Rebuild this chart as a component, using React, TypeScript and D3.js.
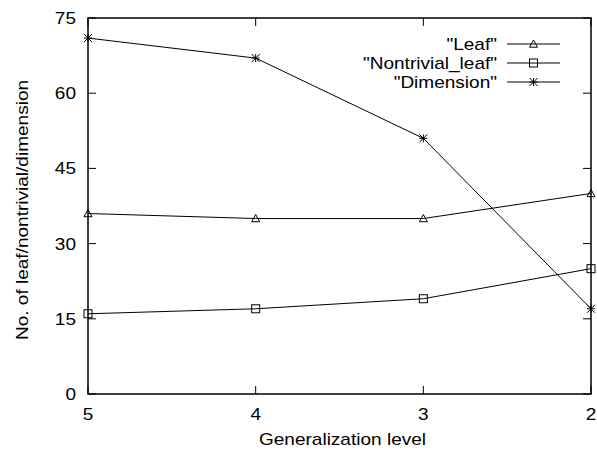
import React, { useEffect, useRef } from "react";
import * as d3 from "d3";

// generalization levels (x axis runs 5 -> 2)
const levels = [5, 4, 3, 2];
const leaf = [36, 35, 35, 40];
const nontrivialLeaf = [16, 17, 19, 25];
const dimension = [71, 67, 51, 17];
const yTicks = [0, 15, 30, 45, 60, 75];
const seriesNames = ['"Leaf"', '"Nontrivial_leaf"', '"Dimension"'];
const seriesMarks = ["triangle", "square", "star"];

const App = () => {
  const svgRef = useRef<SVGSVGElement>(null);

  useEffect(() => {
    const W = 597,
      H = 450;
    const margin = { top: 18, right: 6, bottom: 56, left: 88 };
    const width = W - margin.left - margin.right,
      height = H - margin.top - margin.bottom;

    d3.select(svgRef.current).selectAll("*").remove();

    const svg = d3
      .select(svgRef.current)
      .attr("width", W)
      .attr("height", H)
      .style("position", "absolute")
      .style("left", "0px")
      .style("top", "0px")
      .style("font-family", "'Liberation Sans', Arial, sans-serif");

    const g = svg.append("g").attr("transform", `translate(${margin.left},${margin.top})`);

    // the original font is a bit wider than Liberation Sans
    const label = (sel: any, tx: number, ty: number, txt: string, anchor: string, rot = 0) =>
      sel
        .append("text")
        .attr("transform", `translate(${tx},${ty}) rotate(${rot}) scale(1.12,1)`)
        .attr("text-anchor", anchor)
        .attr("font-size", 17)
        .text(txt);

    const x = d3.scaleLinear().domain([5, 2]).range([0, width]);
    const y = d3.scaleLinear().domain([0, 75]).range([height, 0]);

    // ticks (inward, mirrored)
    const tickLen = 8;
    levels.forEach((v) => {
      g.append("line").attr("x1", x(v)).attr("x2", x(v)).attr("y1", height).attr("y2", height - tickLen).attr("stroke", "#000");
      g.append("line").attr("x1", x(v)).attr("x2", x(v)).attr("y1", 0).attr("y2", tickLen).attr("stroke", "#000");
      label(g, x(v), height + 26, String(v), "middle");
    });
    yTicks.forEach((v) => {
      g.append("line").attr("x1", 0).attr("x2", tickLen).attr("y1", y(v)).attr("y2", y(v)).attr("stroke", "#000");
      g.append("line").attr("x1", width).attr("x2", width - tickLen).attr("y1", y(v)).attr("y2", y(v)).attr("stroke", "#000");
      label(g, -12, y(v) + 6, String(v), "end");
    });

    // frame
    g.append("rect")
      .attr("width", width)
      .attr("height", height)
      .attr("fill", "none")
      .attr("stroke", "#000")
      .attr("stroke-width", 1.5);

    // axis titles
    label(svg, margin.left + width / 2 + 3, H - 5, "Generalization level", "middle");
    label(svg, 28, margin.top + height / 2 + 4, "No. of leaf/nontrivial/dimension", "middle", -90);

    const drawMark = (sel: any, type: string, cx: number, cy: number) => {
      const s = 4;
      if (type === "triangle") {
        sel.append("path")
          .attr("d", `M${cx},${cy - s}L${cx + s},${cy + s * 0.8}L${cx - s},${cy + s * 0.8}Z`)
          .attr("fill", "none").attr("stroke", "#000");
      } else if (type === "square") {
        sel.append("rect")
          .attr("x", cx - s).attr("y", cy - s).attr("width", 2 * s).attr("height", 2 * s)
          .attr("fill", "none").attr("stroke", "#000");
      } else {
        sel.append("path")
          .attr("d", `M${cx - s},${cy}L${cx + s},${cy}M${cx - s},${cy - s}L${cx + s},${cy + s}M${cx - s},${cy + s}L${cx + s},${cy - s}M${cx},${cy - s}L${cx},${cy + s}`)
          .attr("fill", "none").attr("stroke", "#000");
      }
    };

    const line = d3
      .line<number>()
      .x((d, i) => x(levels[i]))
      .y((d) => y(d));

    [leaf, nontrivialLeaf, dimension].forEach((vals, k) => {
      g.append("path")
        .datum(vals)
        .attr("fill", "none")
        .attr("stroke", "#000")
        .attr("stroke-width", 1)
        .attr("d", line);
      vals.forEach((v, i) => drawMark(g, seriesMarks[k], x(levels[i]), y(v)));
    });

    // legend
    seriesNames.forEach((name, k) => {
      const ly = 26 + k * 19;
      label(g, 409, ly + 6, name, "end");
      g.append("line")
        .attr("x1", 419).attr("x2", 472)
        .attr("y1", ly).attr("y2", ly)
        .attr("stroke", "#000");
      drawMark(g, seriesMarks[k], 445.5, ly);
    });
  }, []);

  return <svg ref={svgRef}></svg>;
};

export default App;
